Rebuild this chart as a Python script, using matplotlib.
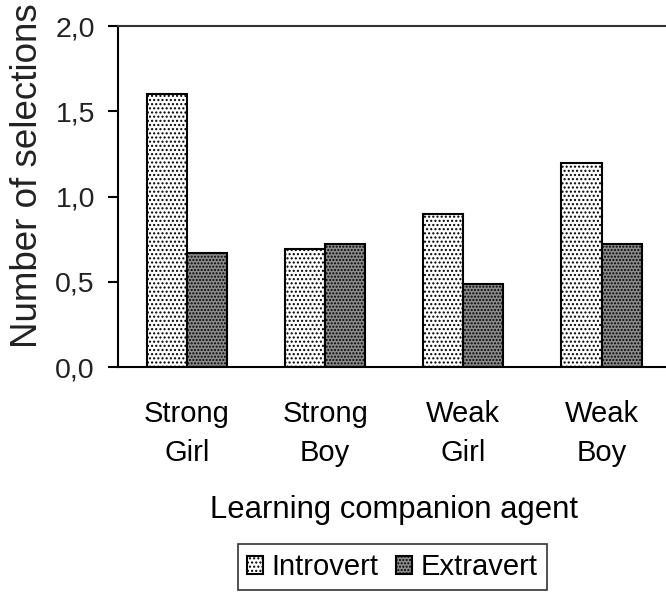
import matplotlib
matplotlib.use("Agg")
import matplotlib.pyplot as plt
import numpy as np

plt.rcParams['font.family'] = ['Liberation Sans', 'DejaVu Sans']
plt.rcParams['hatch.linewidth'] = 1.0

# data
agents = ['Strong\nGirl', 'Strong\nBoy', 'Weak\nGirl', 'Weak\nBoy']
introvert = [1.60, 0.69, 0.90, 1.20]
extravert = [0.67, 0.72, 0.49, 0.72]
series_names = ['Introvert', 'Extravert']
y_ticks = [0.0, 0.5, 1.0, 1.5, 2.0]
y_tick_labels = ['0,0', '0,5', '1,0', '1,5', '2,0']

fig = plt.figure(figsize=(6.66, 5.95), dpi=100)
ax = fig.add_axes([0.177, 0.383, 0.83, 0.573])

x = np.arange(len(agents))
w = 0.29
b1 = ax.bar(x - w / 2, introvert, w, color='white', edgecolor='black',
            linewidth=1.5, hatch='....', label=series_names[0])
b2 = ax.bar(x + w / 2, extravert, w, color='#8c8c8c', edgecolor='black',
            linewidth=1.5, hatch='.....', label=series_names[1])

ax.set_xlim(-0.5, 3.5)
ax.set_ylim(0, 2.0)
ax.set_yticks(y_ticks)
ax.set_yticklabels(y_tick_labels)
ax.set_xticks(x)
ax.set_xticklabels(agents, linespacing=1.5)

ax.spines['right'].set_visible(False)
for s in ['left', 'bottom', 'top']:
    ax.spines[s].set_linewidth(1.5)
ax.spines['top'].set_color('#333333')

ax.tick_params(axis='y', direction='out', length=7.5, width=1.5, pad=9,
               labelsize=20.5, colors='black')
ax.tick_params(axis='x', length=0, pad=24, labelsize=21)
for lab in ax.get_yticklabels():
    lab.set_color('#222222')

ax.set_xlabel('Learning companion agent', fontsize=22.3, labelpad=20)
fig.text(0.042, 1 - 348 / 595, 'Number of selections', rotation=90,
         ha='center', va='bottom', fontsize=26.5, color='#222222')

leg = fig.legend(handles=[b1, b2], loc='center', ncol=2,
                 bbox_to_anchor=(0.589, 0.047), fontsize=21,
                 frameon=True, fancybox=False, edgecolor='black',
                 handlelength=0.55, handleheight=0.55, handletextpad=0.3,
                 columnspacing=0.6, borderpad=0.3, borderaxespad=0)
leg.get_frame().set_linewidth(1.2)

fig.savefig('out.png', dpi=100)
